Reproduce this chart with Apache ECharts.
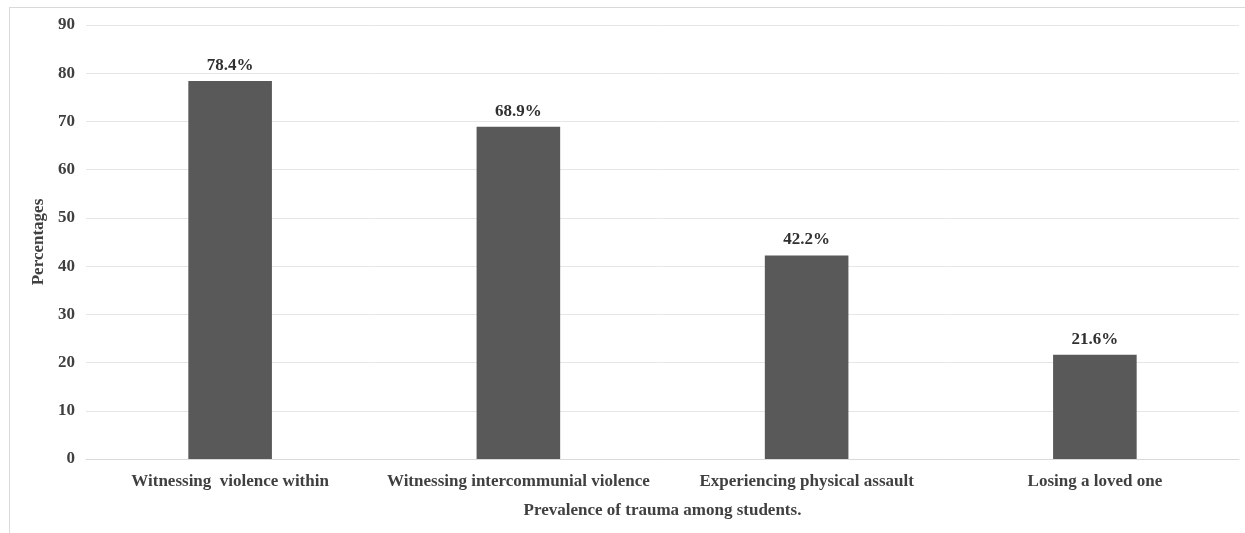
<!DOCTYPE html>
<html>
<head>
<meta charset="utf-8">
<script src="https://cdn.jsdelivr.net/npm/echarts@6/dist/echarts.min.js"></script>
<style>
  html, body { margin: 0; padding: 0; background: #ffffff; }
  #frame { position: absolute; left: 9px; top: 7px; width: 1245px; height: 540px;
           border: 1px solid #d9d9d9; box-sizing: border-box; }
  #chart { position: absolute; left: 0; top: 0; width: 1245px; height: 533px; }
</style>
</head>
<body>
<div id="frame"></div>
<div id="chart"></div>
<script>
// Prevalence of trauma types among students (%)
const categories = [
  'Witnessing  violence within',
  'Witnessing intercommunial violence',
  'Experiencing physical assault',
  'Losing a loved one'
];
const percentages = [78.4, 68.9, 42.2, 21.6];
const yTicks = { min: 0, max: 90, interval: 10 };

const fontFamily = '"Liberation Serif", "DejaVu Serif", serif';
const textColor = '#404040';

const chart = echarts.init(document.getElementById('chart'), null, { renderer: 'canvas' });
chart.setOption({
  animation: false,
  backgroundColor: 'transparent',
  grid: { left: 86, right: 6, top: 25, bottom: 74, containLabel: false },
  xAxis: {
    type: 'category',
    data: categories,
    name: 'Prevalence of trauma among students.',
    nameLocation: 'middle',
    nameGap: 43,
    nameTextStyle: { fontFamily, fontWeight: 'bold', fontSize: 17, color: textColor },
    axisLine: { show: true, lineStyle: { color: '#d9d9d9', width: 1 } },
    axisTick: { show: false },
    axisLabel: { fontFamily, fontWeight: 'bold', fontSize: 17, color: textColor, margin: 14, interval: 0 }
  },
  yAxis: {
    type: 'value',
    min: yTicks.min,
    max: yTicks.max,
    interval: yTicks.interval,
    name: 'Percentages',
    nameLocation: 'middle',
    nameGap: 38,
    nameTextStyle: { fontFamily, fontWeight: 'bold', fontSize: 17, color: textColor },
    axisLine: { show: false },
    axisTick: { show: false },
    axisLabel: { fontFamily, fontWeight: 'bold', fontSize: 17, color: textColor, margin: 11 },
    splitLine: { show: true, lineStyle: { color: '#e6e6e6', width: 1 } }
  },
  series: [{
    type: 'bar',
    data: percentages,
    barWidth: '29%',
    itemStyle: { color: '#595959' },
    label: {
      show: true,
      position: 'top',
      distance: 7,
      formatter: p => p.value.toFixed(1) + '%',
      fontFamily, fontWeight: 'bold', fontSize: 17, color: '#303030'
    }
  }]
});
</script>
</body>
</html>
